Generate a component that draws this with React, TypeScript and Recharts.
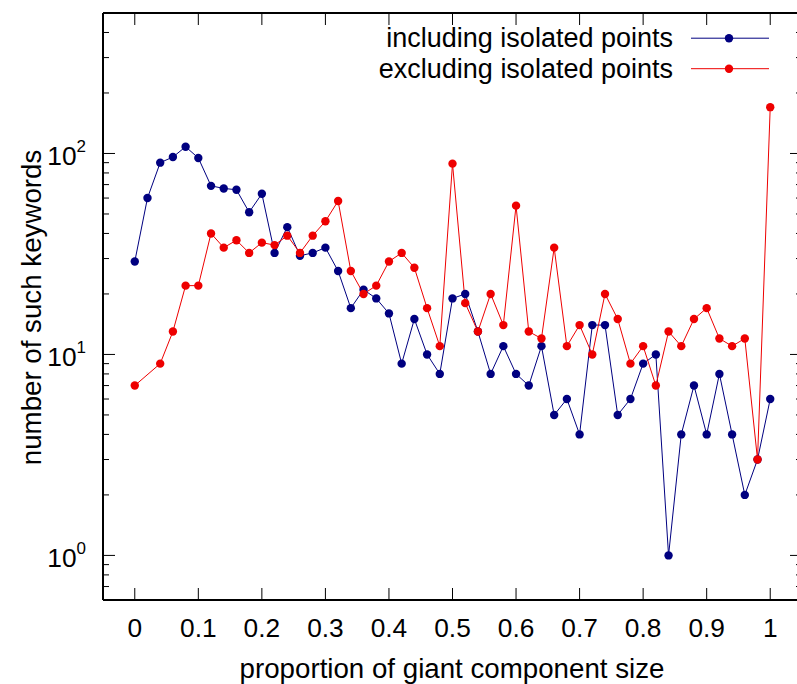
import React from 'react';
import { LineChart, Line, XAxis, YAxis } from 'recharts';

// proportion of giant component size (x positions of the points)
const proportions = [
  0, 0.02, 0.04, 0.06, 0.08, 0.1, 0.12, 0.14, 0.16, 0.18,
  0.2, 0.22, 0.24, 0.26, 0.28, 0.3, 0.32, 0.34, 0.36, 0.38,
  0.4, 0.42, 0.44, 0.46, 0.48, 0.5, 0.52, 0.54, 0.56, 0.58,
  0.6, 0.62, 0.64, 0.66, 0.68, 0.7, 0.72, 0.74, 0.76, 0.78,
  0.8, 0.82, 0.84, 0.86, 0.88, 0.9, 0.92, 0.94, 0.96, 0.98, 1,
];

const includingIsolated = [
  29, 60, 90, 96, 108, 95, 69, 67, 66, 51,
  63, 32, 43, 31, 32, 34, 26, 17, 21, 19,
  16, 9, 15, 10, 8, 19, 20, 13, 8, 11,
  8, 7, 11, 5, 6, 4, 14, 14, 5, 6,
  9, 10, 1, 4, 7, 4, 8, 4, 2, 3, 6,
];

// no point at 0.02 in this series
const excludingIsolated = [
  7, null, 9, 13, 22, 22, 40, 34, 37, 32,
  36, 35, 39, 32, 39, 46, 58, 26, 20, 22,
  29, 32, 27, 17, 11, 89, 18, 13, 20, 14,
  55, 13, 12, 34, 11, 14, 10, 20, 15, 9,
  11, 7, 13, 11, 15, 17, 12, 11, 12, 3, 170,
];

const xTicks = [0, 0.1, 0.2, 0.3, 0.4, 0.5, 0.6, 0.7, 0.8, 0.9, 1];
const yTicks = [
  0.6, 0.7, 0.8, 0.9,
  1, 2, 3, 4, 5, 6, 7, 8, 9,
  10, 20, 30, 40, 50, 60, 70, 80, 90,
  100, 200, 300, 400, 500,
];
const yMajor = [1, 10, 100];

const data = proportions.map((x, i) => ({
  x,
  including: includingIsolated[i],
  excluding: excludingIsolated[i],
}));

const FONT = '"Liberation Sans", Arial, Helvetica, sans-serif';
const LABEL_SIZE = 27.7;
const BLUE = '#000080';
const RED = '#ee0000';

const BottomTick = ({ x, y, payload }: any) => (
  <g>
    <line x1={x} y1={y} x2={x} y2={y - 12} stroke="#000" />
    <text x={x} y={y + 37} textAnchor="middle" fontSize={26.3} fontFamily={FONT} fill="#000">
      {String(payload.value)}
    </text>
  </g>
);

const TopTick = ({ x, y }: any) => <line x1={x} y1={y} x2={x} y2={y + 12} stroke="#000" />;

const LeftTick = ({ x, y, payload }: any) => {
  const major = yMajor.includes(payload.value);
  return (
    <g>
      <line x1={x} y1={y} x2={x + (major ? 12 : 6)} y2={y} stroke="#000" />
      {major && (
        <text x={x - 17} y={y + 12} textAnchor="end" fontSize={26.3} fontFamily={FONT} fill="#000">
          10
          <tspan fontSize={17} dy={-13}>
            {String(Math.round(Math.log10(payload.value)))}
          </tspan>
        </text>
      )}
    </g>
  );
};

const RightTick = ({ x, y, payload }: any) => {
  const major = yMajor.includes(payload.value);
  return <line x1={x} y1={y} x2={x - (major ? 12 : 6)} y2={y} stroke="#000" />;
};

const LegendRow = ({ y, label, color }: { y: number; label: string; color: string }) => (
  <g>
    <text x={673} y={y + 9} textAnchor="end" fontSize={27} fontFamily={FONT} fill="#000">
      {label}
    </text>
    <line x1={691} y1={y} x2={769} y2={y} stroke={color} strokeWidth={1} />
    <circle cx={729} cy={y} r={4.2} fill={color} />
  </g>
);

export default function App() {
  return (
    <div
      style={{
        position: 'fixed',
        left: 0,
        top: 0,
        width: 797,
        height: 684,
        overflow: 'hidden',
        background: '#fff',
      }}
    >
      <LineChart width={810} height={684} data={data} margin={{ top: 0, right: 0, bottom: 0, left: 0 }}>
        <XAxis
          dataKey="x"
          type="number"
          domain={[-0.05, 1.05]}
          allowDataOverflow
          ticks={xTicks}
          interval={0}
          height={84}
          tickSize={0}
          tickMargin={0}
          tickLine={false}
          axisLine={{ stroke: '#000', strokeWidth: 2 }}
          tick={(p: any) => <BottomTick {...p} />}
        />
        <XAxis
          xAxisId="top"
          orientation="top"
          dataKey="x"
          type="number"
          domain={[-0.05, 1.05]}
          allowDataOverflow
          ticks={xTicks}
          interval={0}
          height={13}
          tickSize={0}
          tickMargin={0}
          tickLine={false}
          axisLine={{ stroke: '#000', strokeWidth: 2 }}
          tick={(p: any) => <TopTick {...p} />}
        />
        <YAxis
          scale="log"
          type="number"
          domain={[0.6, 500]}
          allowDataOverflow
          ticks={yTicks}
          interval={0}
          width={103}
          tickSize={0}
          tickMargin={0}
          tickLine={false}
          axisLine={{ stroke: '#000', strokeWidth: 2 }}
          tick={(p: any) => <LeftTick {...p} />}
        />
        <YAxis
          yAxisId="right"
          orientation="right"
          scale="log"
          type="number"
          domain={[0.6, 500]}
          allowDataOverflow
          ticks={yTicks}
          interval={0}
          width={8}
          tickSize={0}
          tickMargin={0}
          tickLine={false}
          axisLine={{ stroke: '#000', strokeWidth: 2 }}
          tick={(p: any) => <RightTick {...p} />}
        />
        <Line
          dataKey="including"
          stroke={BLUE}
          strokeWidth={1}
          dot={{ r: 4.2, fill: BLUE, stroke: 'none' }}
          activeDot={false}
          isAnimationActive={false}
        />
        <Line
          dataKey="excluding"
          stroke={RED}
          strokeWidth={1}
          connectNulls
          dot={{ r: 4.2, fill: RED, stroke: 'none' }}
          activeDot={false}
          isAnimationActive={false}
        />
        <LegendRow y={38.2} label="including isolated points" color={BLUE} />
        <LegendRow y={68.7} label="excluding isolated points" color={RED} />
        <text x={452} y={678} textAnchor="middle" fontSize={LABEL_SIZE} fontFamily={FONT} fill="#000">
          proportion of giant component size
        </text>
        <text
          x={41}
          y={307.5}
          transform="rotate(-90 41 307.5)"
          textAnchor="middle"
          fontSize={LABEL_SIZE}
          fontFamily={FONT}
          fill="#000"
        >
          number of such keywords
        </text>
      </LineChart>
    </div>
  );
}
